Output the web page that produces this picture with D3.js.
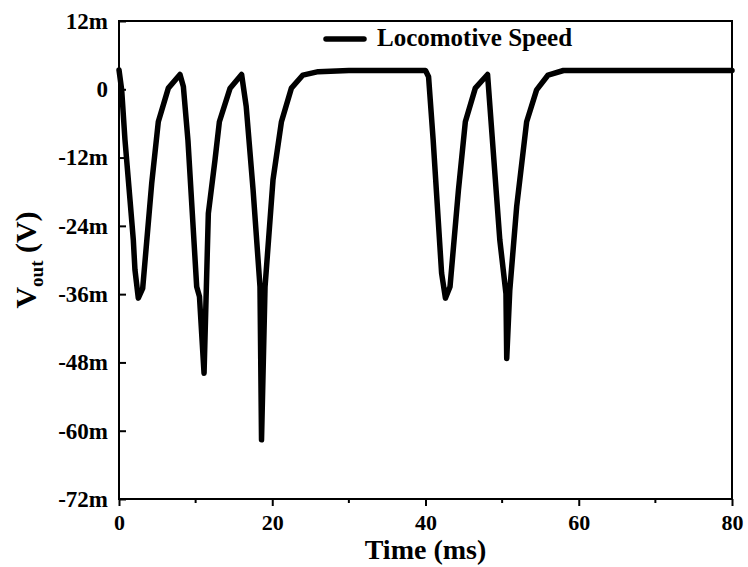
<!DOCTYPE html>
<html><head><meta charset="utf-8">
<script src="https://cdn.jsdelivr.net/npm/d3@7"></script>
<style>body{margin:0;background:#fff}svg{display:block}text{font-family:"Liberation Serif","Times New Roman",serif;font-weight:bold}</style>
</head><body>
<script>
const timeMs = [0.0,0.35,0.78,1.44,1.87,2.08,2.52,3.09,4.27,5.13,6.44,7.96,8.4,9.0,10.14,10.5,11.1,11.66,12.53,13.1,14.5,16.0,16.6,17.5,18.4,18.6,19.06,20.1,21.2,22.5,24.0,26.0,30.0,35.0,40.0,40.4,41.0,42.1,42.6,43.2,44.3,45.2,46.5,48.1,49.7,50.5,50.6,51.0,51.9,53.2,54.5,56.0,58.0,65.0,72.0,80.0];
const voutMilliV = [3.4,-0.1,-8.9,-19.5,-26.5,-31.7,-36.7,-35.0,-16.5,-5.7,0.2,2.6,0.5,-9.0,-34.7,-36.4,-49.9,-21.8,-12.4,-5.7,0.2,2.6,-3.0,-17.7,-34.7,-61.6,-34.7,-15.9,-5.7,0.2,2.5,3.1,3.3,3.3,3.3,2.2,-8.9,-32.3,-36.7,-34.7,-17.7,-5.7,0.2,2.6,-26.5,-35.9,-47.3,-35.3,-20.6,-5.7,-0.1,2.5,3.3,3.3,3.3,3.3];
const xTicks = [0,20,40,60,80];
const xMinorTicks = [10,30,50,70];
const yTicks = [12,0,-12,-24,-36,-48,-60,-72];
const yTickLabels = ["12m","0","-12m","-24m","-36m","-48m","-60m","-72m"];
const seriesName = "Locomotive Speed";

const W=748,H=567;
const m={l:119,r:748-732,t:21,b:567-499};
const svg=d3.select("body").append("svg").attr("width",W).attr("height",H);
const x=d3.scaleLinear().domain([0,80]).range([m.l,W-m.r]);
const y=d3.scaleLinear().domain([-72,12]).range([H-m.b,m.t]);

// frame
svg.append("rect").attr("x",m.l).attr("y",m.t).attr("width",x(80)-x(0)).attr("height",y(-72)-y(12))
  .attr("fill","none").attr("stroke","#000").attr("stroke-width",2);

// x axis
const gx=svg.append("g").attr("transform",`translate(0,${y(-72)})`);
gx.call(d3.axisBottom(x).tickValues(xTicks).tickSize(7).tickFormat(d3.format("d")));
gx.call(g=>g.select(".domain").remove());
gx.selectAll(".tick line").attr("stroke-width",2);
gx.selectAll("text").attr("font-size",22).attr("y",31).attr("dy",0).attr("fill","#000");
gx.selectAll(".minor").data(xMinorTicks).enter().append("line").attr("class","minor")
  .attr("x1",d=>x(d)).attr("x2",d=>x(d)).attr("y1",0).attr("y2",4).attr("stroke","#000").attr("stroke-width",2);

// y axis (ticks inward)
const gy=svg.append("g").attr("transform",`translate(${x(0)},0)`);
gy.call(d3.axisLeft(y).tickValues(yTicks).tickSize(-7).tickPadding(11).tickFormat((d,i)=>yTickLabels[i]));
gy.call(g=>g.select(".domain").remove());
gy.selectAll(".tick line").attr("stroke-width",2);
gy.selectAll("text").attr("font-size",23).attr("fill","#000");

// line
const line=d3.line().x((d,i)=>x(timeMs[i])).y((d,i)=>y(voutMilliV[i]));
svg.append("path").datum(voutMilliV).attr("d",line).attr("fill","none").attr("stroke","#000")
  .attr("stroke-width",5.5).attr("stroke-linejoin","round").attr("stroke-linecap","round");

// legend
svg.append("line").attr("x1",326).attr("x2",364).attr("y1",39).attr("y2",39).attr("stroke","#000").attr("stroke-width",5.5).attr("stroke-linecap","round");
svg.append("text").attr("x",377).attr("y",46).attr("font-size",25).text(seriesName);

// titles
svg.append("text").attr("x",(x(0)+x(80))/2).attr("y",559).attr("text-anchor","middle").attr("font-size",28).text("Time (ms)");
const yt=svg.append("text").attr("transform",`translate(36,${(y(12)+y(-72))/2}) rotate(-90)`).attr("text-anchor","middle").attr("font-size",30);
yt.append("tspan").text("V");
yt.append("tspan").attr("font-size",19).attr("dy",7).text("out");
yt.append("tspan").attr("dy",-7).text(" (V)");
</script>
</body></html>
